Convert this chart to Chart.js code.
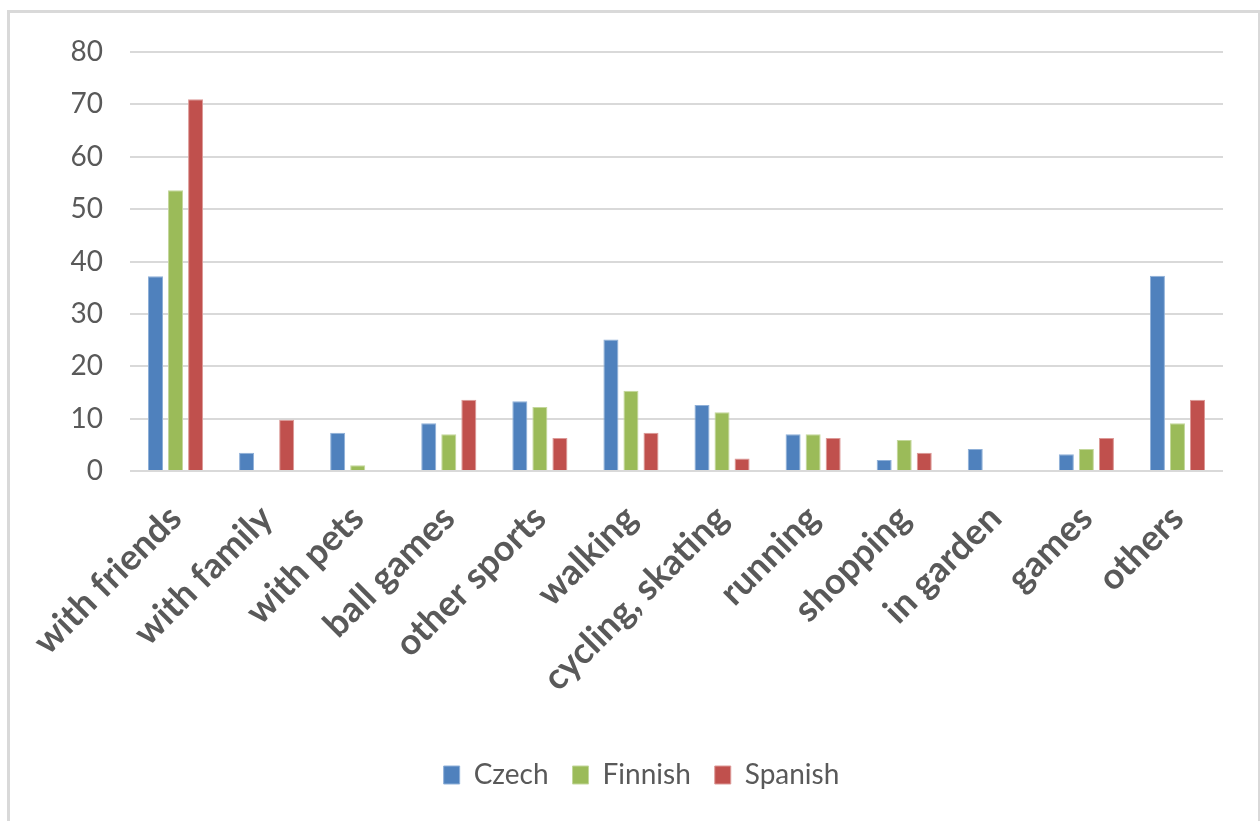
<!DOCTYPE html>
<html>
<head>
<meta charset="utf-8">
<script src="https://cdn.jsdelivr.net/npm/chart.js@4.4.1/dist/chart.umd.min.js"></script>
<style>
  html, body { margin: 0; padding: 0; background: #ffffff; }
  #frame { position: absolute; left: 7px; top: 10px; width: 1248px; height: 830px;
           border-left: 3px solid #d9d9d9; border-top: 3px solid #d9d9d9; border-right: 3px solid #d9d9d9; }
  #wrap { position: absolute; left: 0; top: 0; width: 1260px; height: 821px; }
</style>
</head>
<body>
<div id="frame"></div>
<div id="wrap"><canvas id="c" width="1260" height="821"></canvas></div>
<script>
const categories = ["with friends", "with family", "with pets", "ball games", "other sports", "walking",
                    "cycling, skating", "running", "shopping", "in garden", "games", "others"];
const czech   = [37.2, 3.5, 7.3, 9.1, 13.3, 25.1, 12.6, 7.0, 2.1, 4.2, 3.2, 37.3];
const finnish = [53.6, 0,   1.1, 7.0, 12.2, 15.3, 11.2, 7.0, 5.9, 0,   4.2, 9.1];
const spanish = [71.0, 9.8, 0,   13.6, 6.3, 7.3, 2.4, 6.3, 3.5, 0,   6.3, 13.6];
const yTicks  = [0, 10, 20, 30, 40, 50, 60, 70, 80];

const FONT = "Lato, 'Open Sans', 'DejaVu Sans', sans-serif";

const legendShift = {
  id: 'legendShift',
  afterLayout(chart) {
    const lg = chart.legend;
    if (lg) { lg.left += 30; lg.right += 30; }
  }
};

new Chart(document.getElementById('c'), {
  type: 'bar',
  data: {
    labels: categories,
    datasets: [
      { label: 'Czech',   data: czech,   backgroundColor: '#4F81BD', borderColor: '#8fb0d8', borderWidth: 1 },
      { label: 'Finnish', data: finnish, backgroundColor: '#9BBB59', borderColor: '#c3d79b', borderWidth: 1 },
      { label: 'Spanish', data: spanish, backgroundColor: '#C0504D', borderColor: '#dc9997', borderWidth: 1 }
    ]
  },
  plugins: [legendShift],
  options: {
    responsive: false,
    animation: false,
    datasets: { bar: { categoryPercentage: 0.66, barPercentage: 0.75 } },
    layout: { padding: { left: 0, right: 37, top: 52, bottom: 22 } },
    plugins: {
      tooltip: { enabled: false },
      legend: {
        position: 'bottom',
        labels: {
          font: { family: FONT, size: 28 },
          color: '#595959',
          boxWidth: 16,
          boxHeight: 18,
          padding: 24
        }
      }
    },
    scales: {
      x: {
        grid: { display: false, drawTicks: false },
        border: { display: false },
        ticks: {
          font: { family: FONT, size: 36, weight: 'bold' },
          color: '#595959',
          minRotation: 45, maxRotation: 45,
          padding: 26,
          autoSkip: false
        },
        afterFit: (s) => { s.height = 266; }
      },
      y: {
        min: 0, max: 80,
        afterBuildTicks: (s) => { s.ticks = yTicks.map(v => ({ value: v })); },
        grid: { color: '#d9d9d9', lineWidth: 2, drawTicks: false },
        border: { display: false },
        ticks: {
          font: { family: FONT, size: 28 },
          color: '#595959',
          padding: 27
        },
        afterFit: (s) => { s.width = 130; }
      }
    }
  }
});
</script>
</body>
</html>
